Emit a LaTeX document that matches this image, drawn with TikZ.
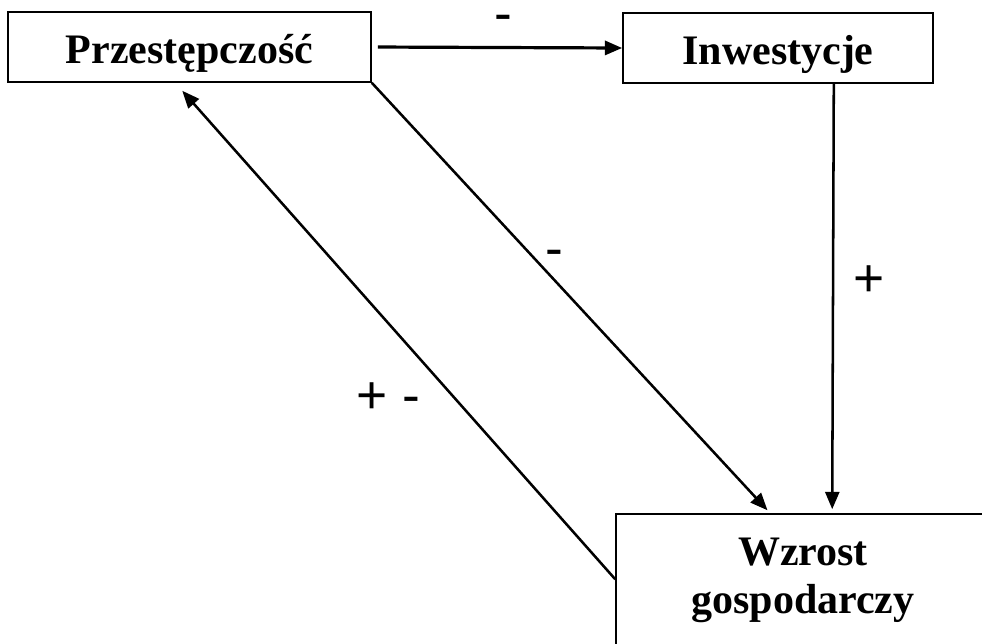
\documentclass[tikz,border=0pt]{standalone}
\usepackage{fontspec}
\setmainfont{Liberation Serif}
\newfontfamily\signfont{Liberation Sans}
\usetikzlibrary{arrows.meta,calc}
\begin{document}
\begin{tikzpicture}[x=0.75pt, y=-0.75pt,
        box/.style = {draw, line width=1.2pt, inner sep=0pt},
        title/.style = {font=\fontsize{31.5}{36}\selectfont\bfseries},
        sign/.style = {inner sep=0pt, anchor=base, text height=0.35em, text depth=0pt, font=\signfont\fontsize{40}{40}\selectfont},
        link/.style = {line width=1.9pt, -{Triangle[length=13pt, width=10.5pt]}}
    ]
    \useasboundingbox (0,0) rectangle (982,643);
    \node [box, title, minimum width=272.25pt, minimum height=52.5pt, text height=24pt, text depth=0pt] (prz) at (189.5,47) {Przestępczość};
    \node [box, title, minimum width=232.5pt, minimum height=52.5pt, text height=24pt, text depth=0pt] (inw) at (778,48) {Inwestycje};
    \node [box, minimum width=280.5pt, minimum height=124.5pt] (wzr) at (803,597) {};
    \node [title, align=center, inner sep=0pt] (wzrtxt) at (803,580.5) {Wzrost\\gospodarczy};
    \draw [link, line width=2.4pt, shorten <=4.5pt] (prz.east) -- (inw.west);
    \draw [link, shorten >=3pt] ($(inw.south east)+(-100,0)$) -- ($(wzr.north west)+(217,0)$);
    \draw [link, shorten >=3pt] (prz.south east) -- ($(wzr.north west)+(155,0)$);
    \draw [link, shorten >=8pt] ($(wzr.north west)+(0,66)$) -- ($(prz.south west)+(168,0)$);
    \node [sign] (minusa) at (503,31) {-};
    \node [sign] (plusa) at (869.5,296) {+};
    \node [sign] (minusb) at (554,266) {-};
    \node [sign] (plusminus) at (388,413) {+ -};
\end{tikzpicture}
\end{document}
